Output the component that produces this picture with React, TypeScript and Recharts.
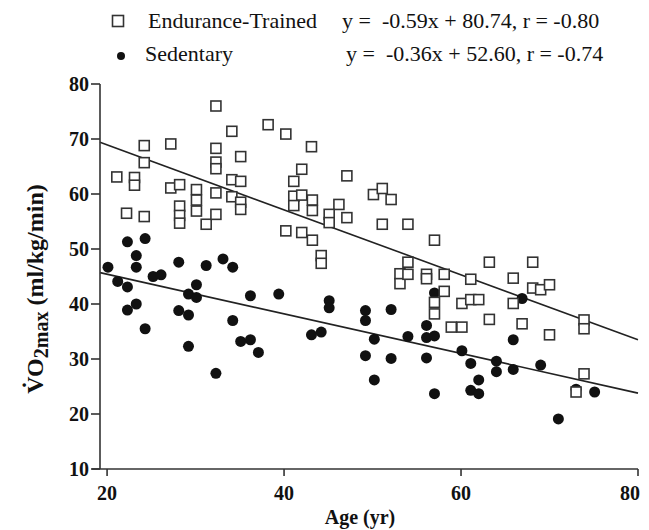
import React from 'react';
import { ScatterChart, Scatter, XAxis, YAxis, ReferenceLine, Label } from 'recharts';

const FONT = '"Liberation Serif", "Times New Roman", Times, serif';

// Endurance-Trained: [age (yr), VO2max (ml/kg/min)]
const trainedPoints: [number, number][] = [
  [32.3, 76.0], [38.2, 72.6], [40.2, 70.9], [34.1, 71.4], [24.2, 68.8], [27.2, 69.1],
  [32.3, 68.3], [35.1, 66.8], [24.2, 65.7], [32.3, 65.8], [32.3, 64.6], [21.1, 63.1],
  [23.1, 63.0], [23.1, 61.6], [27.2, 61.1], [28.2, 61.7], [30.1, 60.8], [30.1, 58.9],
  [30.1, 56.9], [34.1, 62.6], [35.1, 62.3], [32.3, 60.2], [34.1, 59.5], [35.1, 58.5],
  [35.1, 57.2], [22.2, 56.5], [24.2, 55.9], [28.2, 57.8], [28.2, 56.1], [28.2, 54.7],
  [31.2, 54.5], [32.3, 56.3], [40.2, 53.3], [43.1, 68.6], [42.0, 64.5], [41.1, 62.3],
  [47.1, 63.3], [41.1, 59.6], [42.0, 59.8], [43.2, 58.9], [41.1, 57.9], [43.2, 57.0],
  [46.2, 58.1], [45.1, 56.3], [45.1, 54.8], [47.1, 55.7], [50.1, 59.9], [51.1, 61.0],
  [52.1, 59.0], [51.1, 54.5], [54.0, 54.5], [42.0, 53.0], [43.2, 51.6], [44.2, 48.8],
  [44.2, 47.4], [57.0, 51.6], [54.0, 47.6], [53.1, 45.5], [53.1, 43.7], [54.0, 45.4],
  [56.1, 45.4], [56.1, 44.6], [58.1, 45.4], [61.1, 44.5], [58.1, 42.3], [57.0, 40.3],
  [57.0, 38.2], [60.1, 40.1], [61.1, 40.8], [62.0, 40.8], [58.9, 35.8], [60.1, 35.8],
  [63.2, 47.6], [68.1, 47.6], [65.9, 44.7], [68.1, 42.9], [69.0, 42.6], [70.0, 43.5],
  [65.9, 40.1], [63.2, 37.2], [66.9, 36.4], [70.0, 34.4], [73.9, 37.1], [73.9, 35.5],
  [73.9, 27.3], [73.0, 24.0],
];

// Sedentary: [age (yr), VO2max (ml/kg/min)]
const sedentaryPoints: [number, number][] = [
  [20.1, 46.7], [21.2, 44.1], [22.3, 51.3], [22.3, 43.1], [22.3, 38.9], [23.3, 48.8],
  [23.3, 46.7], [23.3, 40.0], [24.3, 51.9], [24.3, 35.5], [25.2, 45.0], [26.1, 45.3],
  [28.1, 47.6], [28.1, 38.8], [29.2, 41.8], [29.2, 38.0], [29.2, 32.3], [30.1, 43.5],
  [30.1, 41.2], [31.2, 47.0], [32.3, 27.4], [33.1, 48.2], [34.2, 46.7], [34.2, 37.0],
  [35.1, 33.2], [36.2, 41.5], [36.2, 33.5], [37.1, 31.2], [39.4, 41.8], [45.1, 40.6],
  [45.1, 39.3], [43.1, 34.4], [44.2, 34.9], [49.2, 38.8], [49.2, 37.0], [52.1, 39.0],
  [50.2, 33.6], [54.0, 34.1], [49.2, 30.6], [52.1, 30.1], [50.2, 26.2], [56.1, 36.1],
  [57.0, 42.0], [56.1, 33.9], [57.0, 34.2], [56.1, 30.2], [57.0, 23.7], [60.1, 31.5],
  [61.1, 29.2], [62.0, 26.2], [61.1, 24.3], [62.0, 23.7], [66.9, 41.0], [65.9, 33.5],
  [64.0, 29.6], [64.0, 27.7], [65.9, 28.1], [69.0, 28.9], [71.0, 19.1], [73.0, 24.5],
  [75.1, 24.0],
];

// Regression line end points (as drawn)
const trainedFitEnds: [number, number][] = [[19.2, 69.4], [80, 33.5]];
const sedentaryFitEnds: [number, number][] = [[19.2, 45.7], [80, 23.8]];
const axisStubEnds: [number, number][] = [[18.3, 10], [19.2, 10]];

const xTicks = [20, 40, 60, 80];
const yTicks = [10, 20, 30, 40, 50, 60, 70, 80];
const xDomain: [number, number] = [19.2, 80];
const yDomain: [number, number] = [10, 80];

const legendTrained = 'Endurance-Trained';
const legendSedentary = 'Sedentary';
const eqTrained = 'y =  -0.59x + 80.74, r = -0.80';
const eqSedentary = 'y =  -0.36x + 52.60, r = -0.74';
const xTitle = 'Age (yr)';

const toObj = (pts: [number, number][]) => pts.map(([x, y]) => ({ x, y }));

const SquareShape = (props: any) => {
  const { cx, cy } = props;
  if (cx == null || cy == null) return null;
  return <rect x={cx - 5} y={cy - 5} width={10} height={10} fill="#fff" stroke="#333" strokeWidth={1.6} />;
};

const DotShape = (props: any) => {
  const { cx, cy } = props;
  if (cx == null || cy == null) return null;
  return <circle cx={cx} cy={cy} r={5.5} fill="#111" />;
};

const lastX = xTicks[xTicks.length - 1];

const XTick = (props: any) => {
  const { x, y, payload } = props;
  const isLast = payload && payload.value === lastX;
  return (
    <text
      x={isLast ? x + 2 : x}
      y={y}
      dy="0.71em"
      textAnchor={isLast ? 'end' : 'middle'}
      fontSize={20}
      fontWeight={700}
      fill="#111"
      fontFamily={FONT}
    >
      {payload ? payload.value : ''}
    </text>
  );
};

const W = 641;
const H = 522;

export default function App() {
  return (
    <div style={{ position: 'relative', width: W, height: H, fontFamily: FONT }}>
      <ScatterChart width={W} height={H} margin={{ top: 76, right: 11, bottom: 21, left: 0 }}>
        <XAxis
          type="number"
          dataKey="x"
          domain={xDomain}
          ticks={xTicks}
          allowDataOverflow
          height={40}
          tickSize={7}
          tickMargin={10}
          axisLine={{ stroke: '#333', strokeWidth: 1.6 }}
          tickLine={{ stroke: '#333', strokeWidth: 1.6 }}
          tick={<XTick />}
        />
        <YAxis
          type="number"
          dataKey="y"
          domain={yDomain}
          ticks={yTicks}
          allowDataOverflow
          width={92}
          tickSize={9}
          tickMargin={2}
          axisLine={{ stroke: '#333', strokeWidth: 1.6 }}
          tickLine={{ stroke: '#333', strokeWidth: 1.6 }}
          tick={{ fontSize: 20, fontWeight: 700, fill: '#111', fontFamily: FONT }}
        >
          <Label
            content={() => (
              <text
                x={35}
                y={281}
                transform="rotate(-90 35 281)"
                textAnchor="middle"
                fontSize={24}
                fontWeight={700}
                fill="#111"
                fontFamily={FONT}
              >
                <tspan>V̇O</tspan>
                <tspan fontSize={20} dy={5}>2max</tspan>
                <tspan dy={-5}> (ml/kg/min)</tspan>
              </text>
            )}
          />
        </YAxis>
        <ReferenceLine segment={toObj(axisStubEnds)} stroke="#333" strokeWidth={1.6} ifOverflow="visible" />
        <ReferenceLine segment={toObj(trainedFitEnds)} stroke="#222" strokeWidth={1.6} ifOverflow="visible" />
        <ReferenceLine segment={toObj(sedentaryFitEnds)} stroke="#222" strokeWidth={1.6} ifOverflow="visible" />
        <Scatter data={toObj(sedentaryPoints)} shape={DotShape} isAnimationActive={false} />
        <Scatter data={toObj(trainedPoints)} shape={SquareShape} isAnimationActive={false} />
      </ScatterChart>
      <svg width={W} height={H} style={{ position: 'absolute', left: 0, top: 0, pointerEvents: 'none' }}>
        <rect x={104.5} y={7.5} width={11} height={11} fill="#fff" stroke="#333" strokeWidth={1.6} />
        <text x={140} y={20} fontSize={22} fill="#111" fontFamily={FONT}>{legendTrained}</text>
        <text x={334} y={20} fontSize={22} fill="#111" fontFamily={FONT} style={{ whiteSpace: 'pre' }}>{eqTrained}</text>
        <circle cx={113} cy={48} r={4} fill="#111" />
        <text x={137} y={53} fontSize={22} fill="#111" fontFamily={FONT}>{legendSedentary}</text>
        <text x={338} y={53} fontSize={22} fill="#111" fontFamily={FONT} style={{ whiteSpace: 'pre' }}>{eqSedentary}</text>
        <text x={352} y={516} textAnchor="middle" fontSize={20} fontWeight={700} fill="#111" fontFamily={FONT}>{xTitle}</text>
      </svg>
    </div>
  );
}
